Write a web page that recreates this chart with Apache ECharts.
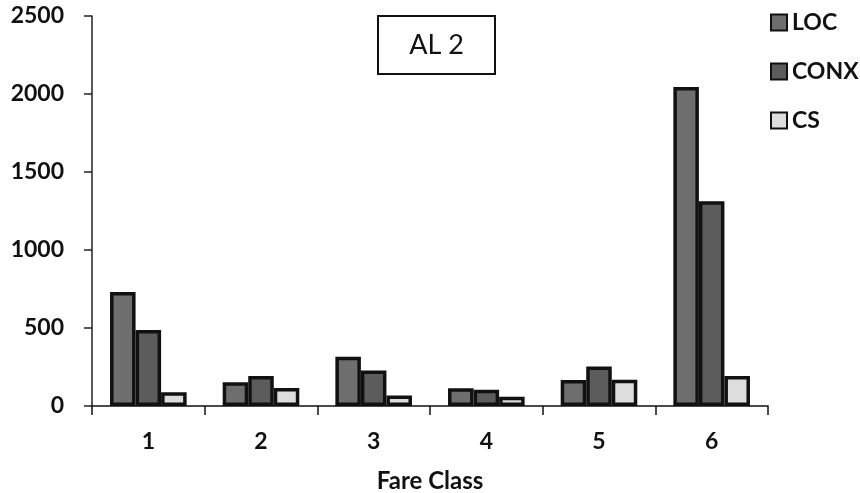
<!DOCTYPE html>
<html>
<head>
<meta charset="utf-8">
<title>AL 2</title>
<script src="https://cdn.jsdelivr.net/npm/echarts@6/dist/echarts.min.js"></script>
<style>
  html, body { margin: 0; padding: 0; background: #ffffff; }
  #chart { width: 860px; height: 493px; }
</style>
</head>
<body>
<div id="chart"></div>
<script>
// Fare classes on the category axis
const fareClasses = ['1', '2', '3', '4', '5', '6'];

// Passenger counts per fare class
const locValues  = [730, 153, 315, 113, 166, 2045];
const conxValues = [487, 192, 227, 104, 254, 1312];
const csValues   = [88, 115, 68, 59, 169, 192];

// Value axis ticks
const yTicks = [0, 500, 1000, 1500, 2000, 2500];

const FONT = 'Lato, "Open Sans", sans-serif';

const chart = echarts.init(document.getElementById('chart'), null, { renderer: 'canvas' });

function barSeries(name, data, color) {
  return {
    name: name,
    type: 'bar',
    data: data,
    barGap: '0%',
    barCategoryGap: '32%',
    itemStyle: { color: color, borderColor: '#111111', borderWidth: 3.5 },
    emphasis: { disabled: true }
  };
}

chart.setOption({
  animation: false,
  backgroundColor: '#ffffff',
  grid: { left: 92, right: 92, top: 16, bottom: 87, containLabel: false, outerBoundsMode: 'none' },
  graphic: [{
    type: 'group',
    left: 377,
    top: 15,
    children: [
      {
        type: 'rect',
        shape: { x: 0, y: 0, width: 117, height: 58 },
        style: { fill: '#ffffff', stroke: '#111111', lineWidth: 2 }
      },
      {
        type: 'text',
        x: 58.5,
        y: 29,
        style: {
          text: 'AL 2',
          fill: '#111111',
          font: '27px ' + FONT,
          align: 'center',
          verticalAlign: 'middle'
        }
      }
    ]
  }],
  legend: {
    orient: 'vertical',
    left: 770,
    top: 11,
    padding: 0,
    itemWidth: 16,
    itemHeight: 16,
    itemGap: 26,
    icon: 'rect',
    selectedMode: false,
    textStyle: { fontFamily: FONT, fontWeight: 'bold', fontSize: 23, color: '#111111' },
    data: ['LOC', 'CONX', 'CS']
  },
  xAxis: {
    type: 'category',
    data: fareClasses,
    name: 'Fare Class',
    nameLocation: 'middle',
    nameGap: 63,
    nameTextStyle: { fontFamily: FONT, fontWeight: 'bold', fontSize: 24, color: '#111111' },
    axisLine: { lineStyle: { color: '#111111', width: 1.5 } },
    axisTick: { show: true, length: 9, inside: false, lineStyle: { color: '#111111', width: 1.5 } },
    axisLabel: { margin: 24, fontFamily: FONT, fontWeight: 'bold', fontSize: 23, color: '#111111' },
    splitLine: { show: false }
  },
  yAxis: {
    type: 'value',
    min: yTicks[0],
    max: yTicks[yTicks.length - 1],
    interval: yTicks[1] - yTicks[0],
    axisLine: { show: true, lineStyle: { color: '#222222', width: 1.5 } },
    axisTick: { show: true, length: 8, lineStyle: { color: '#222222', width: 1.5 } },
    axisLabel: {
      margin: 28,
      fontFamily: FONT,
      fontWeight: 'bold',
      fontSize: 23,
      color: '#111111',
      formatter: function (v) { return String(v); }
    },
    splitLine: { show: false }
  },
  series: [
    barSeries('LOC', locValues, '#6e6e6e'),
    barSeries('CONX', conxValues, '#5c5c5c'),
    barSeries('CS', csValues, '#dddddd')
  ]
});
</script>
</body>
</html>
